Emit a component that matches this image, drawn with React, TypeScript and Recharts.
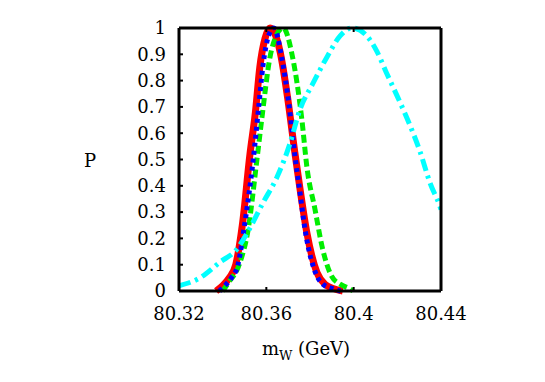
import React from 'react';
import { LineChart, Line, XAxis, YAxis, Label } from 'recharts';

const xTicks = [80.32, 80.36, 80.4, 80.44];
const yTicks = [0, 0.1, 0.2, 0.3, 0.4, 0.5, 0.6, 0.7, 0.8, 0.9, 1];

const redCurve = [
  { x: 80.337, p: 0 }, { x: 80.340, p: 0.02 }, { x: 80.343, p: 0.05 }, { x: 80.346, p: 0.1 },
  { x: 80.349, p: 0.25 }, { x: 80.3525, p: 0.52 }, { x: 80.355, p: 0.68 }, { x: 80.357, p: 0.85 },
  { x: 80.3594, p: 0.96 }, { x: 80.3617, p: 1 }, { x: 80.3663, p: 0.91 }, { x: 80.370, p: 0.72 },
  { x: 80.373, p: 0.53 }, { x: 80.3754, p: 0.39 }, { x: 80.3786, p: 0.22 }, { x: 80.3832, p: 0.07 },
  { x: 80.387, p: 0.025 }, { x: 80.3905, p: 0.01 }, { x: 80.395, p: 0 },
];

const blueCurve = [
  { x: 80.3385, p: 0 }, { x: 80.341, p: 0.02 }, { x: 80.344, p: 0.05 }, { x: 80.347, p: 0.1 },
  { x: 80.350, p: 0.25 }, { x: 80.354, p: 0.5 }, { x: 80.3565, p: 0.7 }, { x: 80.3585, p: 0.86 },
  { x: 80.361, p: 0.97 }, { x: 80.3635, p: 1 }, { x: 80.367, p: 0.89 }, { x: 80.3705, p: 0.7 },
  { x: 80.373, p: 0.52 }, { x: 80.375, p: 0.4 }, { x: 80.378, p: 0.22 }, { x: 80.3825, p: 0.07 },
  { x: 80.386, p: 0.025 }, { x: 80.390, p: 0.01 }, { x: 80.394, p: 0 },
];

const greenCurve = [
  { x: 80.340, p: 0 }, { x: 80.3425, p: 0.03 }, { x: 80.348, p: 0.11 }, { x: 80.3516, p: 0.23 },
  { x: 80.3557, p: 0.5 }, { x: 80.358, p: 0.66 }, { x: 80.3617, p: 0.89 }, { x: 80.3645, p: 0.97 },
  { x: 80.3677, p: 1 }, { x: 80.372, p: 0.89 }, { x: 80.3763, p: 0.65 }, { x: 80.3786, p: 0.47 },
  { x: 80.3823, p: 0.31 }, { x: 80.3855, p: 0.17 }, { x: 80.390, p: 0.055 }, { x: 80.394, p: 0.025 },
  { x: 80.3983, p: 0.008 }, { x: 80.3997, p: 0 },
];

const cyanCurve = [
  { x: 80.32, p: 0.02 }, { x: 80.3296, p: 0.05 }, { x: 80.3388, p: 0.11 }, { x: 80.3466, p: 0.16 },
  { x: 80.3512, p: 0.22 }, { x: 80.3585, p: 0.336 }, { x: 80.365, p: 0.435 }, { x: 80.3708, p: 0.56 },
  { x: 80.3754, p: 0.69 }, { x: 80.3814, p: 0.79 }, { x: 80.3878, p: 0.89 }, { x: 80.3938, p: 0.97 },
  { x: 80.3993, p: 1 }, { x: 80.406, p: 0.97 }, { x: 80.4107, p: 0.91 }, { x: 80.415, p: 0.83 },
  { x: 80.42, p: 0.74 }, { x: 80.4258, p: 0.63 }, { x: 80.4304, p: 0.53 }, { x: 80.435, p: 0.41 },
  { x: 80.4396, p: 0.32 }, { x: 80.44, p: 0.31 },
];

const serif = "'DejaVu Serif', serif";
const font = { fontFamily: serif, fontSize: 18, fill: '#000' };
const axisLine = { stroke: '#000', strokeWidth: 3 };
const tickLine = { stroke: '#000', strokeWidth: 2 };
const fmtX = (v: number) => String(Math.round(v * 100) / 100);
const blank = () => '';

export default function App() {
  return (
    <div style={{ position: 'absolute', left: 0, top: 0, width: 545, height: 382, background: '#fff', fontFamily: serif }}>
      <LineChart width={545} height={382} margin={{ top: 27, right: 103, left: 129, bottom: 41 }}>
        <XAxis
          xAxisId="b" type="number" dataKey="x" domain={[80.32, 80.44]} ticks={xTicks} interval={0}
          allowDataOverflow tickFormatter={fmtX} axisLine={axisLine} tickLine={tickLine}
          tickSize={-4} tickMargin={20} tick={font} height={50}
        >
          <Label content={() => (
            <text x={306} y={355} textAnchor="middle" style={{ fontFamily: serif, fontSize: 18 }}>
              m<tspan fontSize={13} dy={5}>W</tspan><tspan dy={-5}> (GeV)</tspan>
            </text>
          )} />
        </XAxis>
        <XAxis
          xAxisId="t" orientation="top" type="number" dataKey="x" domain={[80.32, 80.44]} ticks={xTicks} interval={0}
          allowDataOverflow tickFormatter={blank} axisLine={axisLine} tickLine={tickLine}
          tickSize={-4} height={1}
        />
        <YAxis
          yAxisId="l" type="number" domain={[0, 1]} ticks={yTicks} interval={0} axisLine={axisLine} tickLine={tickLine}
          tickSize={-4} tickMargin={17} tick={font} width={50}
        >
          <Label content={() => (
            <text x={90} y={167} textAnchor="middle" style={{ fontFamily: serif, fontSize: 18 }}>P</text>
          )} />
        </YAxis>
        <YAxis
          yAxisId="r" orientation="right" type="number" domain={[0, 1]} ticks={yTicks} interval={0} axisLine={axisLine}
          tickLine={tickLine} tickSize={-4} tickFormatter={blank} width={1}
        />
        <Line xAxisId="b" yAxisId="l" data={redCurve} dataKey="p" type="monotone" stroke="#ff0000"
          strokeWidth={7} dot={false} isAnimationActive={false} />
        <Line xAxisId="b" yAxisId="l" data={greenCurve} dataKey="p" type="monotone" stroke="#00ee00"
          strokeWidth={5} strokeDasharray="8 4" dot={false} isAnimationActive={false} />
        <Line xAxisId="b" yAxisId="l" data={blueCurve} dataKey="p" type="monotone" stroke="#0000ff"
          strokeWidth={5} strokeDasharray="4 4" dot={false} isAnimationActive={false} />
        <Line xAxisId="b" yAxisId="l" data={cyanCurve} dataKey="p" type="monotone" stroke="#00ffff"
          strokeWidth={5} strokeDasharray="12 5 3 5" dot={false} isAnimationActive={false} />
      </LineChart>
    </div>
  );
}
